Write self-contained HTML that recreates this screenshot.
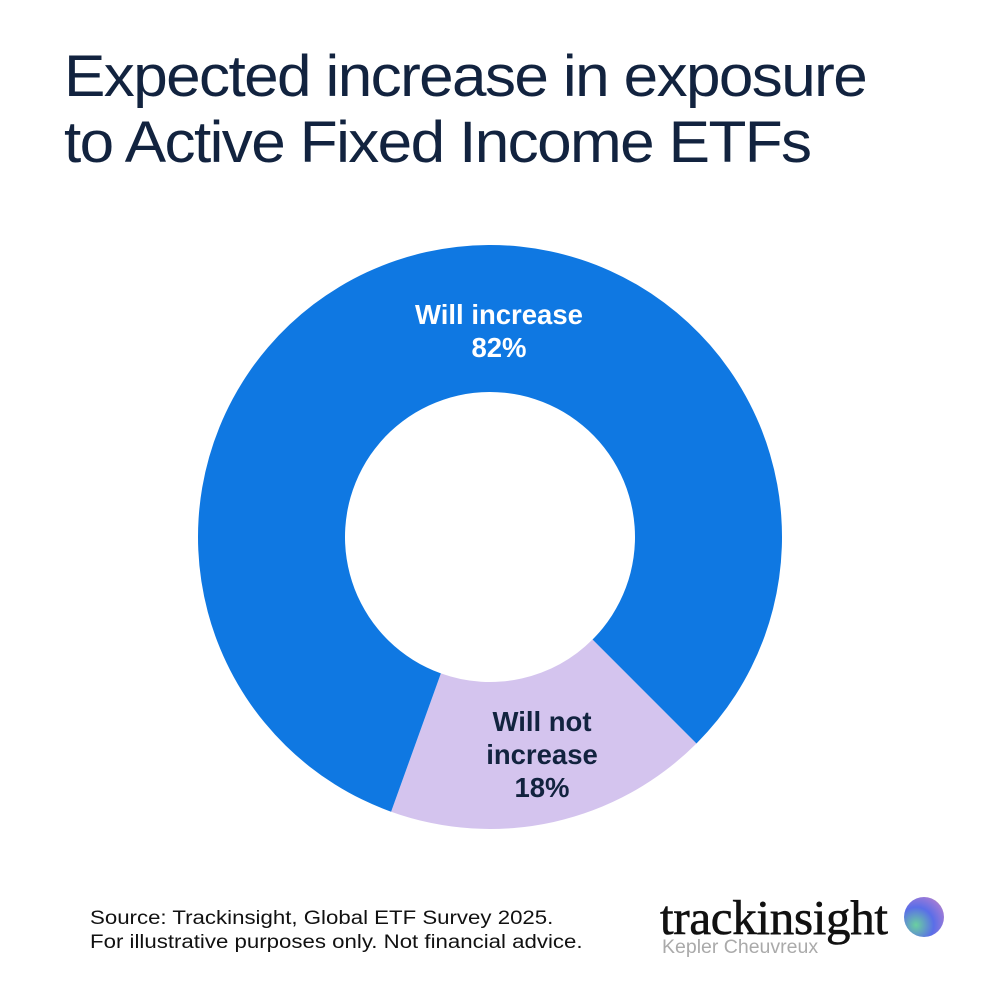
<!DOCTYPE html>
<html><head><meta charset="utf-8"><style>
body{margin:0;width:1000px;height:1000px;background:#fff;overflow:hidden;font-family:"Liberation Sans",sans-serif;position:relative}
#title{position:absolute;left:64px;top:44px;font-size:58px;line-height:66px;color:#12233f;letter-spacing:-1.5px;transform:scaleX(1.07);transform-origin:left top;white-space:nowrap}
#src{position:absolute;left:90px;top:907px;font-size:19px;line-height:24px;color:#111;transform:scaleX(1.17);transform-origin:left top;white-space:nowrap}
#logo{position:absolute;left:660px;top:889px;font-family:"Liberation Serif",serif;font-size:49px;color:#111;letter-spacing:-0.3px;-webkit-text-stroke:0.6px #111}
#kepler{position:absolute;left:662px;top:936px;font-size:19.5px;color:#aaa}
#orb{position:absolute;left:904px;top:897px;width:40px;height:40px;border-radius:50%;background:radial-gradient(circle at 30% 70%,#6ad0a0,#5a6ee8 45%,#9a7ad8 75%,#e0b070)}
</style></head><body>
<div id="title">Expected increase in exposure<br>to Active Fixed Income ETFs</div>
<svg id="chart" width="1000" height="1000" style="position:absolute;left:0;top:0"></svg>
<div id="src">Source: Trackinsight, Global ETF Survey 2025.<br>For illustrative purposes only. Not financial advice.</div>
<div id="logo">trackinsight</div>
<div id="orb"></div>
<div id="kepler">Kepler Cheuvreux</div>
<script>
const categories=["Will not increase","Will increase"];
const values=[18,82];
const colors=["#d4c4ee","#0f78e2"];
const textColors=["#12233f","#ffffff"];
const cx=490,cy=537,R=292,r=145,start=135;
const svg=document.getElementById('chart');
const NS="http://www.w3.org/2000/svg";
const total=values.reduce((a,b)=>a+b,0);
function pt(deg,rad){const a=(deg-90)*Math.PI/180;return [cx+rad*Math.cos(a),cy+rad*Math.sin(a)];}
let ang=start;
values.forEach((v,i)=>{
  const span=v/total*360,a1=ang+span,large=span>180?1:0;
  const [x0,y0]=pt(ang,R),[x1,y1]=pt(a1,R),[x2,y2]=pt(a1,r),[x3,y3]=pt(ang,r);
  const p=document.createElementNS(NS,'path');
  p.setAttribute('d',`M${x0},${y0}A${R},${R} 0 ${large} 1 ${x1},${y1}L${x2},${y2}A${r},${r} 0 ${large} 0 ${x3},${y3}Z`);
  p.setAttribute('fill',colors[i]);
  
  
  svg.appendChild(p);
  let lines,lx,ly;
  if(i===0){lines=["Will not","increase",v+"%"];lx=542;ly=731;}
  else{lines=["Will increase",v+"%"];lx=499;ly=324;}
  lines.forEach((s,k)=>{
    const t=document.createElementNS(NS,'text');
    t.setAttribute('x',lx);t.setAttribute('y',ly+k*33);
    t.setAttribute('text-anchor','middle');t.setAttribute('font-size','27.5');
    t.setAttribute('font-weight','600');t.setAttribute('fill',textColors[i]);
    t.setAttribute('font-family','Liberation Sans, sans-serif');
    t.textContent=s;
    
    
    svg.appendChild(t);
  });
  ang=a1;
});
</script>
</body></html>
